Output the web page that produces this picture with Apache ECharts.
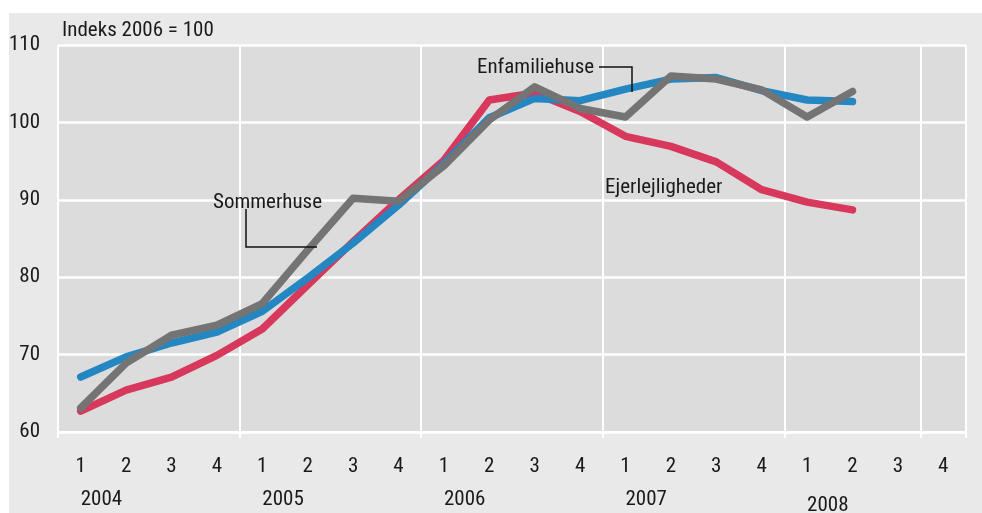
<!DOCTYPE html>
<html>
<head>
<meta charset="utf-8">
<script src="https://cdn.jsdelivr.net/npm/echarts@6/dist/echarts.min.js"></script>
<style>
  html, body { margin: 0; padding: 0; background: #fff; }
  #chart { width: 982px; height: 513px; }
</style>
</head>
<body>
<div id="chart"></div>
<script>
// kvartaler 2004K1 - 2008K4
const quarters = ['1','2','3','4','1','2','3','4','1','2','3','4','1','2','3','4','1','2','3','4'];
const years = ['2004','','','','2005','','','','2006','','','','2007','','','','2008','','',''];
const yTicks = [60, 70, 80, 90, 100, 110];

const enfamiliehuse = [67.1, 69.7, 71.5, 72.9, 75.6, 79.9, 84.4, 89.3, 94.7, 100.6, 103.1, 102.8, 104.3, 105.6, 105.8, 104.1, 102.9, 102.7];
const ejerlejligheder = [62.7, 65.4, 67.1, 69.9, 73.3, 79.0, 84.6, 90.0, 95.1, 102.9, 103.8, 101.4, 98.2, 96.9, 94.9, 91.3, 89.7, 88.7];
const sommerhuse = [63.1, 68.9, 72.5, 73.8, 76.6, 83.5, 90.2, 89.8, 94.4, 100.3, 104.6, 101.8, 100.7, 106.0, 105.6, 104.2, 100.7, 104.0];

const FONT = '"Roboto Condensed", "Liberation Sans", sans-serif';
const TXT = '#1a1a1a';

const chart = echarts.init(document.getElementById('chart'));

function line(name, data, color) {
  return {
    name: name,
    type: 'line',
    data: data,
    symbol: 'none',
    smooth: false,
    lineStyle: { color: color, width: 7.5, cap: 'round', join: 'round' }
  };
}

chart.setOption({
  backgroundColor: '#fff',
  animation: false,
  textStyle: { fontFamily: FONT },
  grid: {
    left: 58, top: 45, right: 16, bottom: 81,
    outerBoundsMode: 'none', containLabel: false,
    show: true, backgroundColor: '#dcdcdc', borderWidth: 0
  },
  xAxis: [
    {
      type: 'category',
      data: quarters,
      boundaryGap: true,
      axisLine: { show: true, lineStyle: { color: '#fff', width: 2 } },
      axisTick: { show: true, interval: 3, length: 6, lineStyle: { color: '#fff', width: 2 } },
      splitLine: { show: true, interval: 3, lineStyle: { color: '#fff', width: 2 } },
      axisLabel: { interval: 0, margin: 24, color: TXT, fontSize: 21, fontFamily: FONT }
    },
    {
      type: 'category',
      data: years,
      position: 'bottom',
      boundaryGap: true,
      axisLine: { show: false },
      axisTick: { show: false },
      splitLine: { show: false },
      axisLabel: {
        interval: 0, margin: 57, align: 'left', color: TXT, fontSize: 21, fontFamily: FONT,
        formatter: v => v === '2008' ? '{low|2008}' : v,
        rich: { low: { padding: [6, 0, 0, 0], fontSize: 21, fontFamily: FONT, color: TXT } }
      }
    }
  ],
  yAxis: {
    type: 'value',
    min: yTicks[0], max: yTicks[yTicks.length - 1], interval: 10,
    axisLine: { show: false },
    axisTick: { show: false },
    splitLine: { show: true, lineStyle: { color: '#fff', width: 2.5 } },
    axisLabel: { margin: 18, color: TXT, fontSize: 21, fontFamily: FONT }
  },
  series: [
    line('Ejerlejligheder', ejerlejligheder, '#d7385b'),
    line('Enfamiliehuse', enfamiliehuse, '#2487c1'),
    line('Sommerhuse', sommerhuse, '#747474')
  ],
  graphic: [
    { type: 'rect', z: -10, silent: true, shape: { x: 9, y: 13, width: 973, height: 500 }, style: { fill: '#e9e9e9' } },
    { type: 'text', z: 100, left: 62, top: 20, style: { text: 'Indeks 2006 = 100', fill: TXT, font: '21px ' + FONT } },
    { type: 'text', z: 100, left: 477, top: 57, style: { text: 'Enfamiliehuse', fill: TXT, font: '21px ' + FONT } },
    { type: 'text', z: 100, left: 213, top: 192, style: { text: 'Sommerhuse', fill: TXT, font: '21px ' + FONT } },
    { type: 'text', z: 100, left: 605, top: 177, style: { text: 'Ejerlejligheder', fill: TXT, font: '21px ' + FONT } },
    { type: 'polyline', z: 100, shape: { points: [[599, 67], [632, 67], [632, 92]] }, style: { stroke: '#111', lineWidth: 1.5, fill: null } },
    { type: 'polyline', z: 100, shape: { points: [[246, 209], [246, 247], [317, 247]] }, style: { stroke: '#111', lineWidth: 1.5, fill: null } }
  ]
});
</script>
</body>
</html>
